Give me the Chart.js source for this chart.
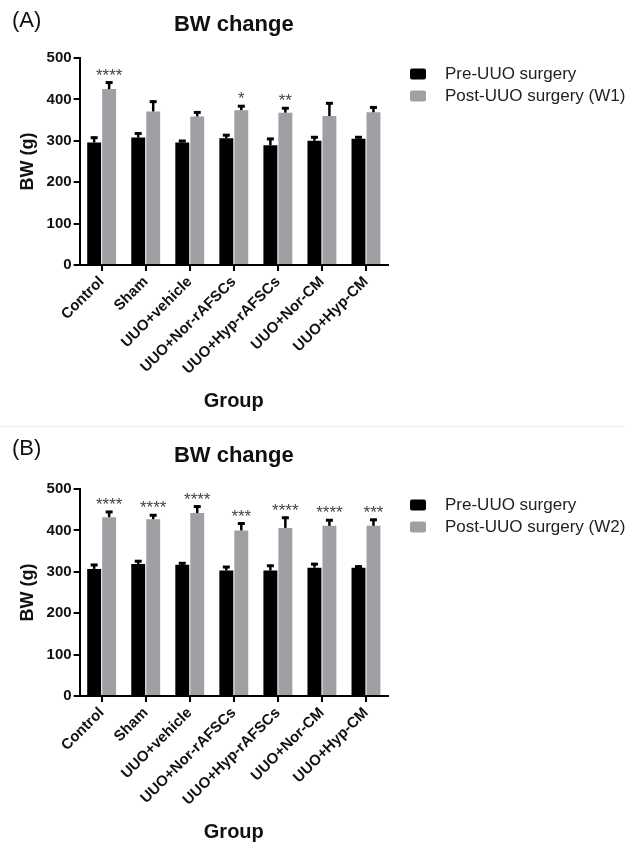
<!DOCTYPE html>
<html>
<head>
<meta charset="utf-8">
<script src="https://cdn.jsdelivr.net/npm/chart.js@4.4.1/dist/chart.umd.min.js"></script>
<style>
	body { margin: 0; background: #fff; }
	#wrap { position: relative; width: 626px; height: 844px; }
	canvas { position: absolute; left: 0; }
	#sep { position: absolute; left: 0; top: 426px; width: 626px; height: 1px; background: #eee; }
</style>
</head>
<body>
<div id="wrap">
	<canvas id="chartA" width="626" height="413" style="top:0px"></canvas>
	<div id="sep"></div>
	<canvas id="chartB" width="626" height="413" style="top:431px"></canvas>
</div>
<script>
const groups = ['Control', 'Sham', 'UUO+vehicle', 'UUO+Nor-rAFSCs', 'UUO+Hyp-rAFSCs', 'UUO+Nor-CM', 'UUO+Hyp-CM'];
const yTicks = [0, 100, 200, 300, 400, 500];

// panel A, week 1
const preW1 = [296, 308, 296, 306, 289, 300, 305];
const preW1Err = [14, 12, 6, 10, 18, 11, 6];
const postW1 = [425, 371, 359, 374, 368, 360, 369];
const postW1Err = [18, 26, 12, 12, 13, 33, 14];
const sigW1 = ['****', '', '', '*', '**', '', ''];

// panel B, week 2
const preW2 = [307, 319, 317, 303, 303, 310, 310];
const preW2Err = [12, 9, 6, 11, 14, 11, 5];
const postW2 = [432, 427, 442, 400, 406, 411, 411];
const postW2Err = [15, 12, 18, 19, 27, 16, 17];
const sigW2 = ['****', '****', '****', '***', '****', '****', '***'];

const FONT = 'Arial, "Liberation Sans", sans-serif';
const GRAY = '#a0a0a4';

const errorBars = {
	id: 'errorBars',
	afterDatasetsDraw(chart, args, opts) {
		const ctx = chart.ctx;
		const y = chart.scales.y;
		ctx.save();
		ctx.strokeStyle = '#000';
		chart.data.datasets.forEach((ds, i) => {
			const meta = chart.getDatasetMeta(i);
			meta.data.forEach((bar, j) => {
				const top = y.getPixelForValue(ds.data[j] + ds.errors[j]);
				ctx.lineWidth = 2.5;
				ctx.beginPath();
				ctx.moveTo(bar.x, bar.y);
				ctx.lineTo(bar.x, top);
				ctx.stroke();
				ctx.lineWidth = 3;
				ctx.beginPath();
				ctx.moveTo(bar.x - 3.5, top + 1);
				ctx.lineTo(bar.x + 3.5, top + 1);
				ctx.stroke();
				// significance stars above the post-surgery bars
				if (ds.stars && ds.stars[j]) {
					ctx.fillStyle = '#444';
					ctx.font = '17px ' + FONT;
					ctx.textAlign = 'center';
					ctx.textBaseline = 'alphabetic';
					ctx.fillText(ds.stars[j], bar.x, top - 1);
				}
			});
		});
		ctx.restore();
	}
};

const decorations = {
	id: 'decorations',
	afterDraw(chart, args, opts) {
		const ctx = chart.ctx;
		const area = chart.chartArea;
		ctx.save();
		ctx.fillStyle = '#111';
		ctx.textBaseline = 'middle';
		ctx.textAlign = 'left';
		ctx.font = '22px ' + FONT;
		ctx.fillText(opts.panel, 12, opts.panelY);
		ctx.textAlign = 'center';
		ctx.font = 'bold 22px ' + FONT;
		ctx.fillText('BW change', (area.left + area.right) / 2, 25);

		// legend
		ctx.textAlign = 'left';
		ctx.font = '17px ' + FONT;
		chart.data.datasets.forEach((ds, i) => {
			const cy = area.top + 16 + i * 22;
			ctx.fillStyle = ds.backgroundColor;
			ctx.beginPath();
			ctx.roundRect(410, cy - 5.5, 16, 11, 2);
			ctx.fill();
			ctx.fillStyle = '#222';
			ctx.fillText(ds.label, 445, cy);
		});
		ctx.restore();
	}
};

function renderPanel(id, panel, panelY, postLabel, pre, preErr, post, postErr, stars) {
	const ctx = document.getElementById(id).getContext('2d');

	new Chart(ctx, {
		type: 'bar',
		data: {
			labels: groups,
			datasets: [{
				label: 'Pre-UUO surgery',
				data: pre,
				errors: preErr,
				backgroundColor: '#000'
			}, {
				label: postLabel,
				data: post,
				errors: postErr,
				stars: stars,
				backgroundColor: GRAY
			}]
		},
		options: {
			responsive: false,
			animation: false,
			devicePixelRatio: 1,
			barPercentage: 0.93,
			categoryPercentage: 0.68,
			layout: { padding: { top: 58, right: 238, left: 13, bottom: 0 } },
			plugins: {
				legend: { display: false },
				tooltip: { enabled: false },
				decorations: { panel: panel, panelY: panelY }
			},
			scales: {
				x: {
					grid: { display: true, drawOnChartArea: false, offset: false, color: '#000', lineWidth: 2, tickLength: 6 },
					border: { display: true, color: '#000', width: 2 },
					ticks: {
						color: '#111',
						font: { family: FONT, size: 15, weight: 'bold' },
						minRotation: 45,
						maxRotation: 45,
						padding: 2
					},
					title: {
						display: true,
						text: 'Group',
						color: '#111',
						font: { family: FONT, size: 20, weight: 'bold' },
						padding: { top: 9, bottom: 0 }
					}
				},
				y: {
					min: 0,
					max: 500,
					afterBuildTicks(scale) { scale.ticks = yTicks.map(v => ({ value: v })); },
					grid: { display: true, drawOnChartArea: false, color: '#000', lineWidth: 2, tickLength: 6 },
					border: { display: true, color: '#000', width: 2 },
					ticks: {
						color: '#111',
						font: { family: FONT, size: 15, weight: 'bold' },
						padding: 2
					},
					title: {
						display: true,
						text: 'BW (g)',
						color: '#111',
						font: { family: FONT, size: 18, weight: 'bold' },
						padding: { top: 4, bottom: 6 }
					}
				}
			}
		},
		plugins: [errorBars, decorations]
	});
}

renderPanel('chartA', '(A)', 21, 'Post-UUO surgery (W1)', preW1, preW1Err, postW1, postW1Err, sigW1);
renderPanel('chartB', '(B)', 18, 'Post-UUO surgery (W2)', preW2, preW2Err, postW2, postW2Err, sigW2);
</script>
</body>
</html>
